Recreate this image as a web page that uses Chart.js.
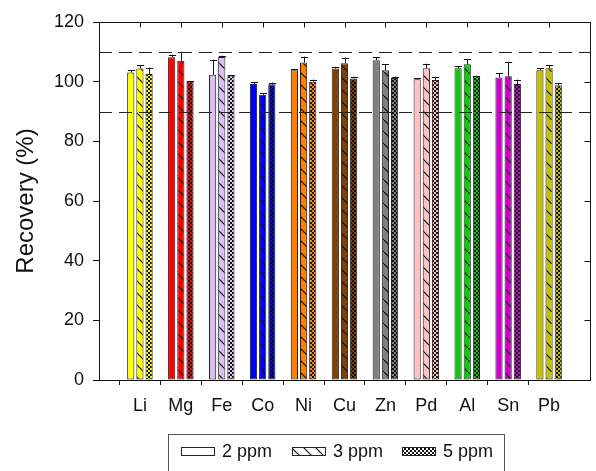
<!DOCTYPE html>
<html>
<head>
<meta charset="utf-8">
<script src="https://cdn.jsdelivr.net/npm/chart.js@4.4.1/dist/chart.umd.min.js"></script>
<style>
  html, body { margin: 0; padding: 0; overflow: hidden; background: #fff; }
  #wrap { width: 600px; height: 471px; }
</style>
</head>
<body>
<div id="wrap"><canvas id="c" width="600" height="471"></canvas></div>
<script>
// ---- data ----
const elements = ['Li', 'Mg', 'Fe', 'Co', 'Ni', 'Cu', 'Zn', 'Pd', 'Al', 'Sn', 'Pb'];
const seriesNames = ['2 ppm', '3 ppm', '5 ppm'];
const rec2 = [103.1, 108.2, 102.3, 99.2, 103.8, 104.4, 107.2, 100.8, 104.5, 101.4, 103.8];
const err2 = [0.8, 0.8, 5.1, 0.6, 0.3, 0.6, 1.0, 0.3, 0.6, 1.4, 0.7];
const rec3 = [104.4, 107.0, 108.3, 95.6, 106.4, 106.2, 103.8, 104.5, 105.8, 101.8, 104.5];
const err3 = [1.1, 3.0, 0.4, 0.6, 2.0, 1.9, 2.0, 1.5, 1.8, 4.9, 1.0];
const rec5 = [102.6, 100.0, 102.1, 99.1, 100.0, 101.1, 101.2, 100.6, 101.8, 99.2, 98.8];
const err5 = [2.1, 0.2, 0.2, 0.6, 0.7, 0.5, 0.5, 1.0, 0.2, 1.5, 0.6];
const limitLines = [110, 90];
const yTicks = { min: 0, max: 120, step: 20 };
const elementColors = ['#FFFF00', '#FF0000', '#DAC0F2', '#0000FF', '#FF8000', '#7F4000',
                       '#808080', '#FFC0C0', '#10C810', '#CC00CC', '#C8C000'];

// ---- helpers ----
const FONT = "'Liberation Sans', Arial, sans-serif";
const pad = a => [null, ...a, null];
const labels = pad(elements).map(v => v === null ? '' : v);

function solid(color) { return color; }
function hatch(color) {
  const c = document.createElement('canvas'); c.width = 12; c.height = 12;
  const g = c.getContext('2d');
  g.fillStyle = color; g.fillRect(0, 0, 12, 12);
  g.strokeStyle = '#111'; g.lineWidth = 1.2;
  g.beginPath(); g.moveTo(-2, -2); g.lineTo(14, 14); g.stroke();
  return g.createPattern(c, 'repeat');
}
function checker(color) {
  const c = document.createElement('canvas'); c.width = 4; c.height = 4;
  const g = c.getContext('2d');
  g.fillStyle = color; g.fillRect(0, 0, 4, 4);
  g.fillStyle = '#111'; g.fillRect(0, 0, 2, 2); g.fillRect(2, 2, 2, 2);
  return g.createPattern(c, 'repeat');
}
const fillMakers = [solid, hatch, checker];
const values = [rec2, rec3, rec5];
const errors = [err2, err3, err5];

const datasets = seriesNames.map((name, i) => ({
  label: name,
  data: pad(values[i]),
  backgroundColor: pad(elementColors.map(fillMakers[i])),
  borderColor: '#222',
  borderWidth: 1,
  borderSkipped: false,
  categoryPercentage: 0.672,
  barPercentage: 0.785
}));

// ---- plugins ----
const extras = {
  id: 'extras',
  afterDatasetsDraw(chart) {
    const ctx = chart.ctx, ys = chart.scales.y, xs = chart.scales.x, ca = chart.chartArea;
    ctx.save();
    // error bars
    ctx.strokeStyle = '#111'; ctx.lineWidth = 1;
    chart.data.datasets.forEach((ds, i) => {
      const meta = chart.getDatasetMeta(i);
      const errs = pad(errors[i]);
      meta.data.forEach((el, j) => {
        const v = ds.data[j];
        if (v === null || v === undefined) return;
        const top = ys.getPixelForValue(v + errs[j]);
        const x = Math.round(el.x) + 0.5;
        const hw = el.width / 2;
        ctx.beginPath();
        ctx.moveTo(x, el.y); ctx.lineTo(x, top);
        ctx.moveTo(x - hw, Math.round(top) + 0.5); ctx.lineTo(x + hw, Math.round(top) + 0.5);
        ctx.stroke();
      });
    });
    // dashed limit lines
    ctx.setLineDash([13, 7]);
    ctx.strokeStyle = '#222';
    limitLines.forEach(v => {
      const y = Math.round(ys.getPixelForValue(v)) + 0.5;
      ctx.beginPath(); ctx.moveTo(ca.left, y); ctx.lineTo(ca.right, y); ctx.stroke();
    });
    ctx.setLineDash([]);
    // top frame line with inward ticks at categories
    ctx.strokeStyle = '#111';
    const ty = Math.round(ca.top) + 0.5;
    ctx.beginPath(); ctx.moveTo(ca.left, ty); ctx.lineTo(ca.right, ty); ctx.stroke();
    elements.forEach((e, k) => {
      const x = Math.round(xs.getPixelForValue(k + 1)) + 0.5;
      ctx.beginPath(); ctx.moveTo(x, ty); ctx.lineTo(x, ty + 5); ctx.stroke();
    });
    // right frame line with inward ticks
    const rx = Math.round(ca.right) + 0.5;
    ctx.beginPath(); ctx.moveTo(rx, ca.top); ctx.lineTo(rx, ca.bottom); ctx.stroke();
    for (let v = yTicks.min; v <= yTicks.max; v += yTicks.step) {
      const y = Math.round(ys.getPixelForValue(v)) + 0.5;
      ctx.beginPath(); ctx.moveTo(rx, y); ctx.lineTo(rx - 6, y); ctx.stroke();
    }
    ctx.restore();
  },
  afterDraw(chart) {
    // boxed legend
    const ctx = chart.ctx;
    ctx.save();
    ctx.strokeStyle = '#555'; ctx.lineWidth = 1;
    ctx.strokeRect(168.5, 434.5, 336, 60);
    const swW = 33, swH = 8, gap = 8, step = 110.5;
    const legendFills = [solid('#FFFFFF'), hatch('#FFFFFF'), checker('#FFFFFF')];
    ctx.font = '18px ' + FONT;
    ctx.textBaseline = 'middle';
    seriesNames.forEach((name, i) => {
      const x0 = Math.round(181 + i * step);
      ctx.fillStyle = legendFills[i];
      ctx.fillRect(x0, 447.5, swW, swH);
      ctx.strokeStyle = '#222';
      ctx.strokeRect(x0 + 0.5, 447.5, swW, swH);
      ctx.fillStyle = '#111';
      ctx.fillText(name, x0 + swW + gap, 452);
    });
    ctx.restore();
  }
};

new Chart(document.getElementById('c'), {
  type: 'bar',
  data: { labels, datasets },
  plugins: [extras],
  options: {
    responsive: false,
    animation: false,
    devicePixelRatio: 1,
    layout: { padding: { left: 0, top: 22, right: 3, bottom: 0 } },
    plugins: { legend: { display: false }, tooltip: { enabled: false } },
    scales: {
      x: {
        offset: false,
        grid: {
          drawOnChartArea: false, tickLength: 5,
          tickColor: c => (c.index === 0 || c.index === labels.length - 1) ? 'rgba(0,0,0,0)' : '#111'
        },
        border: { display: true, color: '#111', width: 1 },
        ticks: { color: '#111', font: { size: 18, family: FONT }, padding: 10, maxRotation: 0, autoSkip: false },
        afterFit: s => { s.height = 91; }
      },
      y: {
        min: yTicks.min, max: yTicks.max,
        grid: { drawOnChartArea: false, tickLength: 6, tickColor: '#111' },
        border: { display: true, color: '#111', width: 1 },
        ticks: { stepSize: yTicks.step, color: '#111', font: { size: 18, family: FONT }, padding: 9 },
        title: { display: true, text: 'Recovery (%)', color: '#111', font: { size: 24, family: FONT }, padding: { top: 12, bottom: 0 } },
        afterFit: s => { s.width = 99; }
      }
    }
  }
});
</script>
</body>
</html>
